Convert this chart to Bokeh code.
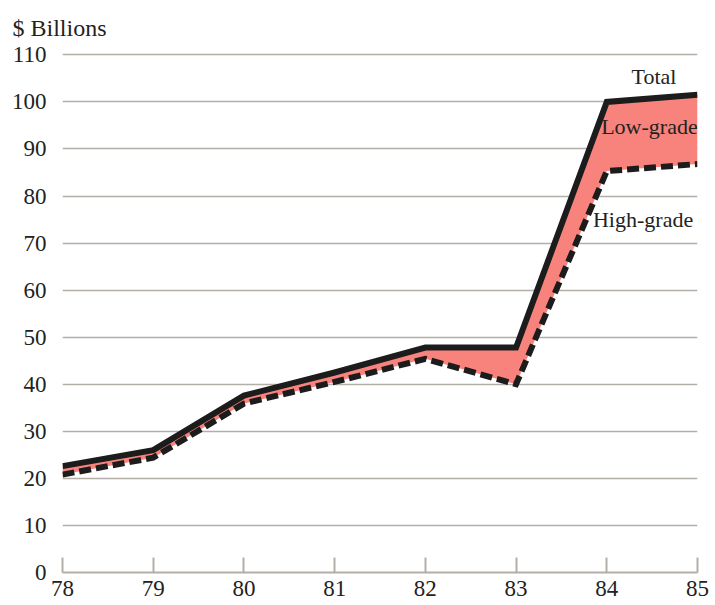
from bokeh.plotting import figure
from bokeh.models import Range1d, FixedTicker, Title, Label
from bokeh.embed import file_html
from bokeh.resources import INLINE

years = [78, 79, 80, 81, 82, 83, 84, 85]
total = [22.6, 26.0, 37.6, 42.5, 47.8, 47.8, 100.0, 101.5]
high_grade = [20.8, 24.4, 35.9, 40.5, 45.4, 40.0, 85.3, 86.8]
y_ticks = [0, 10, 20, 30, 40, 50, 60, 70, 80, 90, 100, 110]
x_ticks = [78, 79, 80, 81, 82, 83, 84, 85]

FONT = "Liberation Serif"
INK = "#222222"
GRID = "#b3afa8"

p = figure(width=712, height=604, output_backend="svg", toolbar_location=None,
           x_range=Range1d(78, 85), y_range=Range1d(0, 110.5),
           min_border_left=62, min_border_right=15, min_border_top=0, min_border_bottom=32)
p.outline_line_color = None
p.background_fill_color = "white"

p.xgrid.grid_line_color = None
p.ygrid.grid_line_color = GRID
p.ygrid.grid_line_width = 1.6
p.ygrid.ticker = FixedTicker(ticks=y_ticks[1:])

p.yaxis.ticker = FixedTicker(ticks=y_ticks)
p.yaxis.axis_line_color = None
p.yaxis.major_tick_line_color = None
p.yaxis.minor_tick_line_color = None
p.yaxis.major_label_text_font = FONT
p.yaxis.major_label_text_font_size = "23px"
p.yaxis.major_label_text_color = INK
p.yaxis.major_label_standoff = 10

p.xaxis.ticker = FixedTicker(ticks=x_ticks)
p.xaxis.axis_line_color = GRID
p.xaxis.axis_line_width = 2
p.xaxis.major_tick_line_color = GRID
p.xaxis.major_tick_line_width = 2
p.xaxis.major_tick_in = 15
p.xaxis.major_tick_out = 0
p.xaxis.minor_tick_line_color = None
p.xaxis.major_label_text_font = FONT
p.xaxis.major_label_text_font_size = "23px"
p.xaxis.major_label_text_color = INK
p.xaxis.major_label_standoff = 8

p.varea(x=years, y1=high_grade, y2=total, fill_color="#f8827c")
p.line(years, total, line_color="#1c1c1c", line_width=6, line_join="miter")
p.line(years, high_grade, line_color="#1c1c1c", line_width=6, line_dash="12 5", line_join="miter")

for txt, x, y in [("Total", 84.52, 105.3), ("Low-grade", 84.47, 94.7), ("High-grade", 84.4, 75.0)]:
    p.add_layout(Label(x=x, y=y, text=txt, text_font=FONT, text_font_size="22px",
                       text_color=INK, text_align="center", text_baseline="middle"))

t = Title(text="$ Billions", text_font=FONT, text_font_size="24px", text_color=INK,
          text_font_style="normal", align="left", offset=-50, standoff=24)
p.add_layout(t, "above")

open("out.html", "w").write(file_html(p, INLINE))
